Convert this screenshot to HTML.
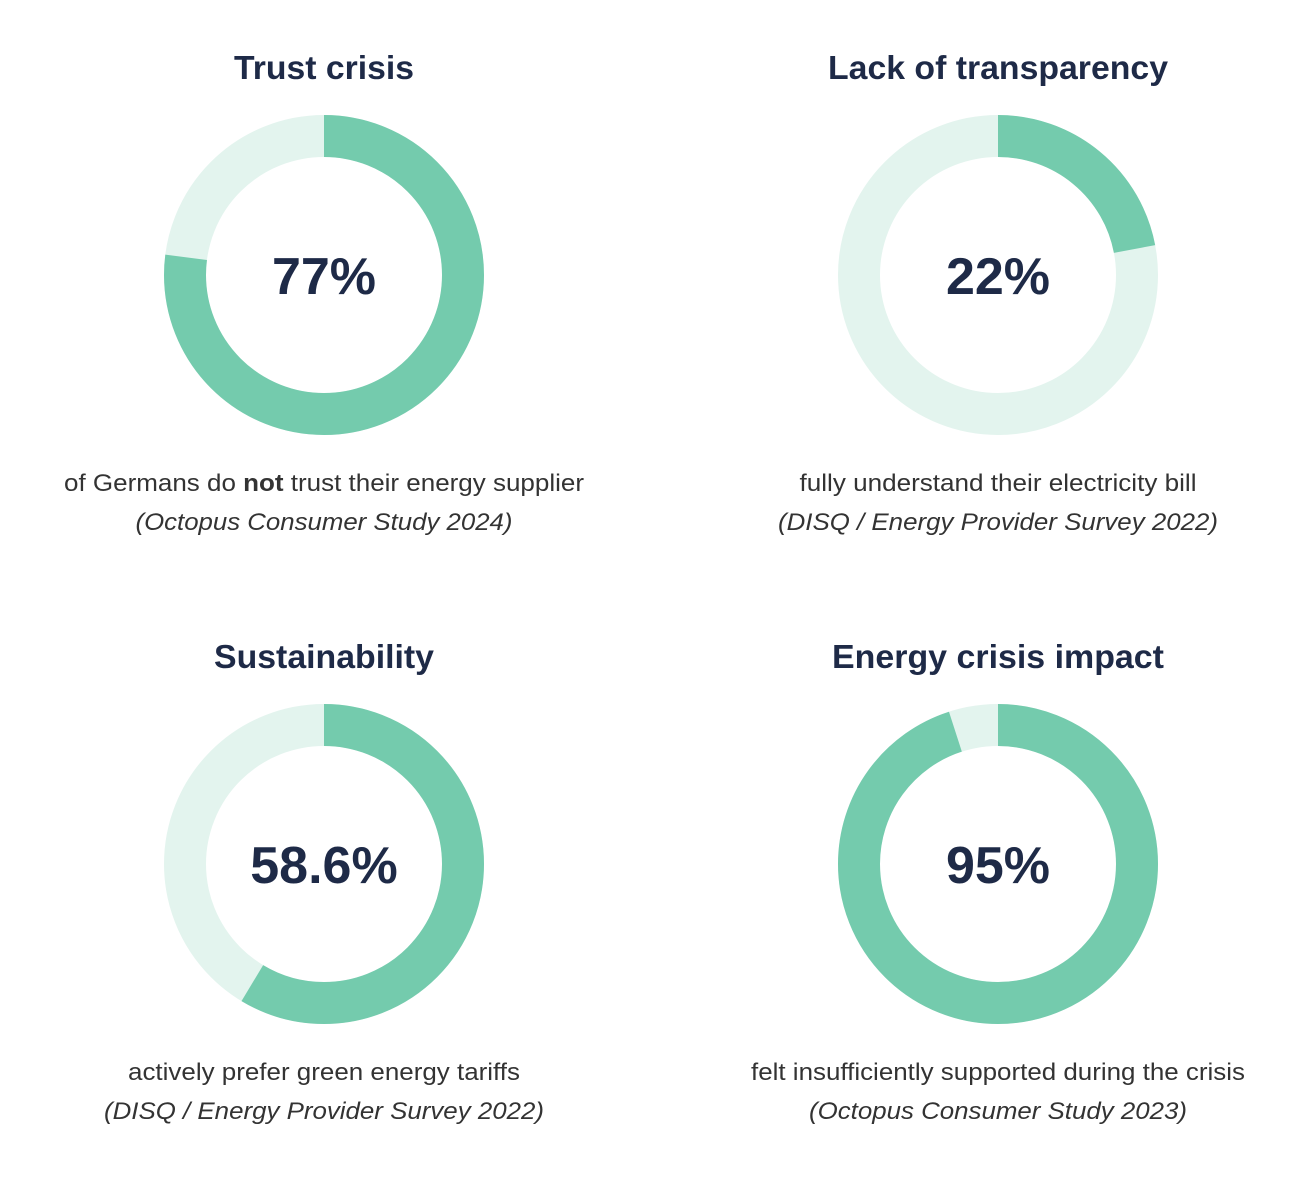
<!DOCTYPE html>
<html><head><meta charset="utf-8"><style>
body{margin:0;background:#fff;width:1310px;height:1180px;overflow:hidden;font-family:"Liberation Sans",Arial,sans-serif}
svg{position:absolute;left:0;top:0}
</style></head><body>
<svg width="1310" height="1180" viewBox="0 0 1310 1180">
<g font-family="Liberation Sans, Arial, sans-serif" text-anchor="middle">
<!-- chart 1 -->
<text x="324" y="79" font-size="33" font-weight="bold" fill="#1e2a47" textLength="180" lengthAdjust="spacingAndGlyphs">Trust crisis</text>
<circle cx="324" cy="275" r="139" fill="none" stroke="#e3f4ee" stroke-width="42"/>
<circle cx="324" cy="275" r="139" fill="none" stroke="#74cbad" stroke-width="42" stroke-dasharray="672.5 1000" transform="rotate(-90 324 275)"/>
<text x="324" y="294" font-size="52" font-weight="bold" fill="#1e2a47">77%</text>
<text x="324" y="491" font-size="24" fill="#333" textLength="520" lengthAdjust="spacingAndGlyphs">of Germans do <tspan font-weight="bold">not</tspan> trust their energy supplier</text>
<text x="324" y="530" font-size="24" font-style="italic" fill="#333" textLength="377" lengthAdjust="spacingAndGlyphs">(Octopus Consumer Study 2024)</text>
<!-- chart 2 -->
<text x="998" y="79" font-size="33" font-weight="bold" fill="#1e2a47" textLength="340" lengthAdjust="spacingAndGlyphs">Lack of transparency</text>
<circle cx="998" cy="275" r="139" fill="none" stroke="#e3f4ee" stroke-width="42"/>
<circle cx="998" cy="275" r="139" fill="none" stroke="#74cbad" stroke-width="42" stroke-dasharray="192.1 1000" transform="rotate(-90 998 275)"/>
<text x="998" y="294" font-size="52" font-weight="bold" fill="#1e2a47">22%</text>
<text x="998" y="491" font-size="24" fill="#333" textLength="397" lengthAdjust="spacingAndGlyphs">fully understand their electricity bill</text>
<text x="998" y="530" font-size="24" font-style="italic" fill="#333" textLength="440" lengthAdjust="spacingAndGlyphs">(DISQ / Energy Provider Survey 2022)</text>
<!-- chart 3 -->
<text x="324" y="668" font-size="33" font-weight="bold" fill="#1e2a47" textLength="220" lengthAdjust="spacingAndGlyphs">Sustainability</text>
<circle cx="324" cy="864" r="139" fill="none" stroke="#e3f4ee" stroke-width="42"/>
<circle cx="324" cy="864" r="139" fill="none" stroke="#74cbad" stroke-width="42" stroke-dasharray="511.8 1000" transform="rotate(-90 324 864)"/>
<text x="324" y="883" font-size="52" font-weight="bold" fill="#1e2a47">58.6%</text>
<text x="324" y="1080" font-size="24" fill="#333" textLength="392" lengthAdjust="spacingAndGlyphs">actively prefer green energy tariffs</text>
<text x="324" y="1119" font-size="24" font-style="italic" fill="#333" textLength="440" lengthAdjust="spacingAndGlyphs">(DISQ / Energy Provider Survey 2022)</text>
<!-- chart 4 -->
<text x="998" y="668" font-size="33" font-weight="bold" fill="#1e2a47" textLength="332" lengthAdjust="spacingAndGlyphs">Energy crisis impact</text>
<circle cx="998" cy="864" r="139" fill="none" stroke="#e3f4ee" stroke-width="42"/>
<circle cx="998" cy="864" r="139" fill="none" stroke="#74cbad" stroke-width="42" stroke-dasharray="829.7 1000" transform="rotate(-90 998 864)"/>
<text x="998" y="883" font-size="52" font-weight="bold" fill="#1e2a47">95%</text>
<text x="998" y="1080" font-size="24" fill="#333" textLength="494" lengthAdjust="spacingAndGlyphs">felt insufficiently supported during the crisis</text>
<text x="998" y="1119" font-size="24" font-style="italic" fill="#333" textLength="378" lengthAdjust="spacingAndGlyphs">(Octopus Consumer Study 2023)</text>
</g>
</svg>
</body></html>
